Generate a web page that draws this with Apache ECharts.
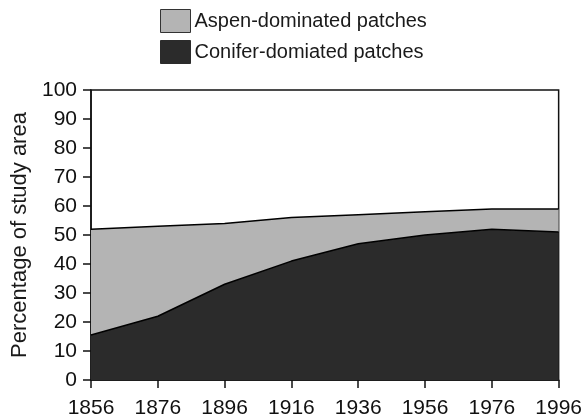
<!DOCTYPE html>
<html lang="en">
<head>
    <meta charset="utf-8">
    <title>Patches</title>
    <script src="https://cdn.jsdelivr.net/npm/echarts@6/dist/echarts.min.js"></script>
    <style type="text/css">
        html, body {
            margin: 0;
            padding: 0;
            background: #ffffff;
        }

        #main {
            width: 585px;
            height: 419px;
        }
    </style>
</head>
<body>
<div id="main"></div>
<script type="text/javascript">
    // years along the bottom
    let years = ['1856', '1876', '1896', '1916', '1936', '1956', '1976', '1996'];
    // conifer share (bottom band) and aspen share (stacked on top)
    let coniferValues = [15.5, 22, 33, 41, 47, 50, 52, 51];
    let aspenValues = [36.5, 31, 21, 15, 10, 8, 7, 8];
    let yTicks = [0, 10, 20, 30, 40, 50, 60, 70, 80, 90, 100];

    let font = 'Liberation Sans, Arial, Helvetica, sans-serif';
    let dark = '#2b2b2b';
    let light = '#b4b4b4';
    let myChart = echarts.init(document.getElementById('main'));

    myChart.setOption({
        animation: false,
        backgroundColor: '#ffffff',
        legend: {
            orient: 'vertical',
            left: 155,
            top: 4,
            icon: 'rect',
            itemWidth: 30,
            itemHeight: 23,
            itemGap: 7,
            data: [
                {name: 'Aspen-dominated patches', itemStyle: {color: light, borderColor: '#333333', borderWidth: 1}},
                {name: 'Conifer-domiated patches', itemStyle: {color: dark, borderColor: dark, borderWidth: 1}}
            ],
            textStyle: {fontFamily: font, fontSize: 20, color: '#1a1a1a', padding: [0, 0, 0, -1]}
        },
        grid: {
            left: 91,
            right: 23,
            top: 90,
            bottom: 39,
            show: true,
            borderColor: '#111111',
            borderWidth: 1.5
        },
        xAxis: {
            type: 'category',
            data: years,
            boundaryGap: false,
            axisLine: {lineStyle: {color: '#111111', width: 1.5}},
            axisTick: {length: 8, lineStyle: {color: '#111111', width: 1.5}},
            axisLabel: {fontFamily: font, fontSize: 21, color: '#111111', margin: 18}
        },
        yAxis: {
            type: 'value',
            min: yTicks[0],
            max: yTicks[yTicks.length - 1],
            interval: 10,
            name: 'Percentage of study area',
            nameLocation: 'middle',
            nameGap: 60,
            nameTextStyle: {fontFamily: font, fontSize: 22, color: '#1a1a1a'},
            splitLine: {show: false},
            axisLine: {show: true, lineStyle: {color: '#111111', width: 1.5}},
            axisTick: {show: true, length: 8, lineStyle: {color: '#111111', width: 1.5}},
            axisLabel: {fontFamily: font, fontSize: 21, color: '#111111', margin: 14}
        },
        series: [
            {
                name: 'Conifer-domiated patches',
                type: 'line',
                stack: 'total',
                data: coniferValues,
                symbol: 'none',
                color: dark,
                lineStyle: {color: '#000000', width: 1.5},
                areaStyle: {color: dark, opacity: 1}
            },
            {
                name: 'Aspen-dominated patches',
                type: 'line',
                stack: 'total',
                data: aspenValues,
                symbol: 'none',
                color: light,
                lineStyle: {color: '#000000', width: 1.5},
                areaStyle: {color: light, opacity: 1}
            }
        ]
    });
</script>
</body>
</html>
